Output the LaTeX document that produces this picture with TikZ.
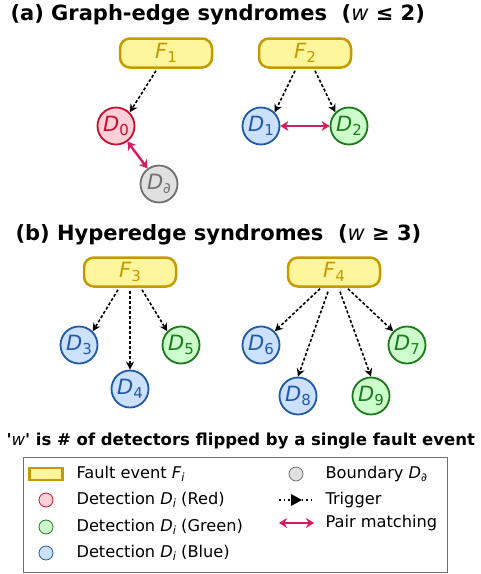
\documentclass[tikz,border=0pt]{standalone}
\usepackage{fontspec}
\setmainfont{DejaVu Sans}[Ligatures=TeXOff]
\usetikzlibrary{arrows.meta}
\definecolor{faultfill}{HTML}{FFF59D}
\definecolor{faultline}{HTML}{C49A00}
\definecolor{redfill}{HTML}{FFD0D8}
\definecolor{redline}{HTML}{C8102E}
\definecolor{greenfill}{HTML}{CCFFCC}
\definecolor{greenline}{HTML}{1B7A1B}
\definecolor{bluefill}{HTML}{CCE0FF}
\definecolor{blueline}{HTML}{1F5AA6}
\definecolor{grayfill}{HTML}{E0E0E0}
\definecolor{grayline}{HTML}{707070}
\definecolor{pairline}{HTML}{D81B60}
\newcommand{\lbl}[2]{\textit{#1}\raisebox{-0.3ex}{\fontsize{15}{15}\selectfont #2}}
\newcommand{\lgl}[2]{\textit{#1}\raisebox{-0.35ex}{\fontsize{11.5}{11.5}\selectfont\itshape #2}}

\begin{document}
\begin{tikzpicture}[x=1pt,y=-1pt,
    fault/.style={draw=faultline,fill=faultfill,line width=2.5pt,rounded corners=10pt,
        minimum width=92pt,minimum height=29pt,inner sep=0pt,text=faultline,font=\fontsize{21}{21}\selectfont},
    det/.style={circle,line width=1.8pt,minimum size=37pt,inner sep=0pt,font=\fontsize{21}{21}\selectfont},
    dred/.style={det,draw=redline,fill=redfill,text=redline},
    dgreen/.style={det,draw=greenline,fill=greenfill,text=greenline},
    dblue/.style={det,draw=blueline,fill=bluefill,text=blueline},
    dgray/.style={det,draw=grayline,fill=grayfill,text=grayline},
    trig/.style={-{Stealth[length=8pt,width=8pt]},line width=1.6pt,dash pattern=on 3pt off 2pt},
    pair/.style={{Stealth[length=8pt,width=10pt]}-{Stealth[length=8pt,width=10pt]},draw=pairline,line width=2.4pt},
    title/.style={anchor=west,font=\fontsize{21}{21}\selectfont\bfseries}]
\useasboundingbox (0,0) rectangle (481,574);

\node[title] (ta) at (7,15) {(a) Graph-edge syndromes\ \ (\textmd{\textit{w}} ≤ 2)};
\node[fault] (f1) at (166,53) {\lbl{F}{1}};
\node[fault] (f2) at (305,53) {\lbl{F}{2}};
\node[dred] (d0) at (116,126) {\lbl{D}{0}};
\node[dgray] (db) at (159,184) {\lbl{D}{∂}};
\node[dblue] (d1) at (261,126) {\lbl{D}{1}};
\node[dgreen] (d2) at (349,126) {\lbl{D}{2}};
\draw[trig] (f1.south) ++(-10,2) -- (d0.north east);
\draw[trig] (f2.south) ++(-10,2) -- (d1.north east);
\draw[trig] (f2.south) ++(10,2) -- (d2.north west);
\draw[pair] (d1) -- (d2);
\draw[pair] (d0) -- (db);

\node[title] (tb) at (12,235) {(b) Hyperedge syndromes\ \ (\textmd{\textit{w}} ≥ 3)};
\node[fault] (f3) at (130,272) {\lbl{F}{3}};
\node[fault] (f4) at (334,272) {\lbl{F}{4}};
\node[dblue] (d3) at (79,345) {\lbl{D}{3}};
\node[dblue] (d4) at (130,389) {\lbl{D}{4}};
\node[dgreen] (d5) at (181,345) {\lbl{D}{5}};
\node[dblue] (d6) at (261,345) {\lbl{D}{6}};
\node[dgreen] (d7) at (407,345) {\lbl{D}{7}};
\node[dblue] (d8) at (298,396) {\lbl{D}{8}};
\node[dgreen] (d9) at (371,396) {\lbl{D}{9}};
\draw[trig] (f3.south) ++(-12,2) -- (d3.north east);
\draw[trig] (f3.south) ++(0,3) -- (d4.north);
\draw[trig] (f3.south) ++(12,2) -- (d5.north west);
\draw[trig] (f4.south) ++(-14,1) -- (d6.north east);
\draw[trig] (f4.south) ++(-6,4) -- (d8.north);
\draw[trig] (f4.south) ++(6,4) -- (d9.north);
\draw[trig] (f4.south) ++(14,1) -- (d7.north west);

\node[anchor=west,font=\fontsize{16.5}{16.5}\selectfont\bfseries] (note) at (3,441)
    {'\textmd{\textit{w}}' is \# of detectors flipped by a single fault event};

\draw[grayline,line width=0.8pt] (23,457) rectangle (447,572);
\begin{scope}[font=\fontsize{16.2}{16.2}\selectfont]
\node[draw=faultline,fill=faultfill,line width=2.5pt,minimum width=33pt,minimum height=12pt,inner sep=0pt] (lf) at (46,474) {};
\node[anchor=west] (tf) at (73,474) {Fault event \lgl{F}{i}};
\node[circle,draw=redline,fill=redfill,minimum size=14pt,inner sep=0pt,line width=0.8pt] (lr) at (46,500) {};
\node[anchor=west] (tr) at (73,500) {Detection \lgl{D}{i} (Red)};
\node[circle,draw=greenline,fill=greenfill,minimum size=14pt,inner sep=0pt,line width=0.8pt] (lg) at (46,527) {};
\node[anchor=west] (tg) at (73,527) {Detection \lgl{D}{i} (Green)};
\node[circle,draw=blueline,fill=bluefill,minimum size=14pt,inner sep=0pt,line width=0.8pt] (lb) at (46,553) {};
\node[anchor=west] (tbl) at (73,553) {Detection \lgl{D}{i} (Blue)};
\node[circle,draw=grayline,fill=grayfill,minimum size=14pt,inner sep=0pt,line width=0.8pt] (lgr) at (296,474) {};
\node[anchor=west] (tgr) at (322,474) {Boundary \lgl{D}{∂}};
\coordinate (ta1) at (279,500);
\coordinate (ta2) at (314,500);
\draw[line width=1.4pt,dash pattern=on 1.5pt off 3pt] (ta1) -- (ta2);
\fill (291,494) -- (302,500) -- (291,506) -- cycle;
\node[anchor=west] (tt) at (322,500) {Trigger};
\coordinate (pa1) at (279,523);
\coordinate (pa2) at (314,523);
\draw[pair] (pa1) -- (pa2);
\node[anchor=west] (tp) at (322,523) {Pair matching};
\end{scope}
\end{tikzpicture}
\end{document}
